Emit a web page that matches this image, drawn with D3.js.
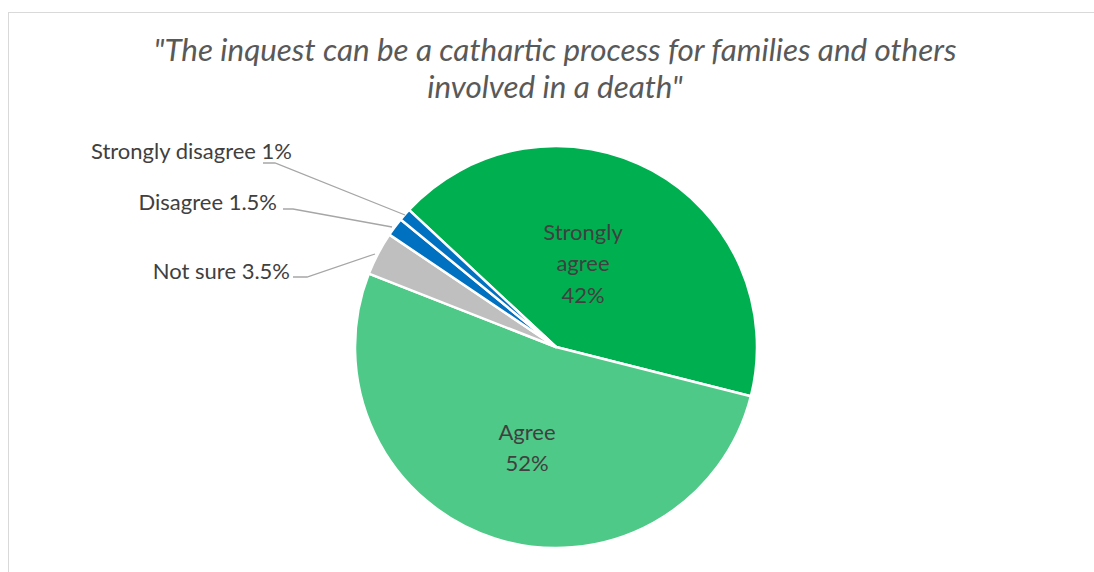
<!DOCTYPE html>
<html>
<head>
<meta charset="utf-8">
<script src="https://cdn.jsdelivr.net/npm/d3@7"></script>
<style>
  html, body { margin: 0; padding: 0; background: #fff; }
  svg { display: block; }
</style>
</head>
<body>
<svg id="chart" width="1094" height="572"></svg>
<script>
// Survey responses to the inquest statement
const categories = ["Strongly agree", "Agree", "Not sure", "Disagree", "Strongly disagree"];
const values = [42, 52, 3.5, 1.5, 1];
const labelText = ["Strongly agree 42%", "Agree 52%", "Not sure 3.5%", "Disagree 1.5%", "Strongly disagree 1%"];
const colors = ["#00B050", "#4FC987", "#BFBFBF", "#0070C0", "#0070C0"];
const titleLines = ["\"The inquest can be a cathartic process for families and others", "involved in a death\""];

const svg = d3.select("#chart");
const font = "Lato, 'Liberation Sans', sans-serif";

// Chart frame
svg.append("rect")
  .attr("x", 8.5).attr("y", 12.5)
  .attr("width", 1100).attr("height", 600)
  .attr("fill", "#fff").attr("stroke", "#D9D9D9").attr("stroke-width", 1);

// Title
const title = svg.append("g").attr("font-family", font)
  .attr("font-style", "italic").attr("fill", "#595959").attr("font-size", 31.4);
title.selectAll("text").data(titleLines).join("text")
  .attr("x", 555).attr("y", (d, i) => 61 + i * 37)
  .attr("text-anchor", "middle")
  .text(d => d);

// Pie
const cx = 556, cy = 347, r = 201;
const startDeg = -47;
const pie = d3.pie().sort(null).value(d => d)
  .startAngle(startDeg * Math.PI / 180)
  .endAngle((startDeg + 360) * Math.PI / 180);
const arcs = pie(values);
const arc = d3.arc().innerRadius(0).outerRadius(r);

const g = svg.append("g").attr("transform", `translate(${cx},${cy})`);
g.selectAll("path").data(arcs).join("path")
  .attr("d", arc)
  .attr("fill", (d, i) => colors[i])
  .attr("stroke", "#fff").attr("stroke-width", 2.5).attr("stroke-linejoin", "round");

// Labels inside the two large slices
const inside = [
  { i: 0, lines: ["Strongly", "agree", "42%"], x: 583, y: 232 },
  { i: 1, lines: ["Agree", "52%"], x: 527, y: 432 }
];
inside.forEach(o => {
  svg.append("g").attr("font-family", font).attr("font-size", 22).attr("fill", "#404040")
    .selectAll("text").data(o.lines).join("text")
    .attr("x", o.x).attr("y", (d, k) => o.y + k * 31.5)
    .attr("dy", "0.35em").attr("text-anchor", "middle")
    .text(d => d);
});

// Outside labels with leader lines for the small slices
const outside = [
  { i: 2, tx: 290, ty: 279, elbow: [293, 277], h: 307, tip: [375, 254] },
  { i: 3, tx: 277, ty: 210, elbow: [283, 209], h: 293, tip: [392, 227] },
  { i: 4, tx: 292, ty: 159, elbow: [263, 163], h: 275, tip: [405, 215] }
];
outside.forEach(o => {
  svg.append("text")
    .attr("x", o.tx).attr("y", o.ty)
    .attr("text-anchor", "end")
    .attr("font-family", font).attr("font-size", 22).attr("fill", "#404040")
    .text(labelText[o.i]);
  svg.append("path")
    .attr("d", d3.line()([o.elbow, [o.h, o.elbow[1]], o.tip]))
    .attr("fill", "none").attr("stroke", "#A6A6A6").attr("stroke-width", 1.3);
});
</script>
</body>
</html>
